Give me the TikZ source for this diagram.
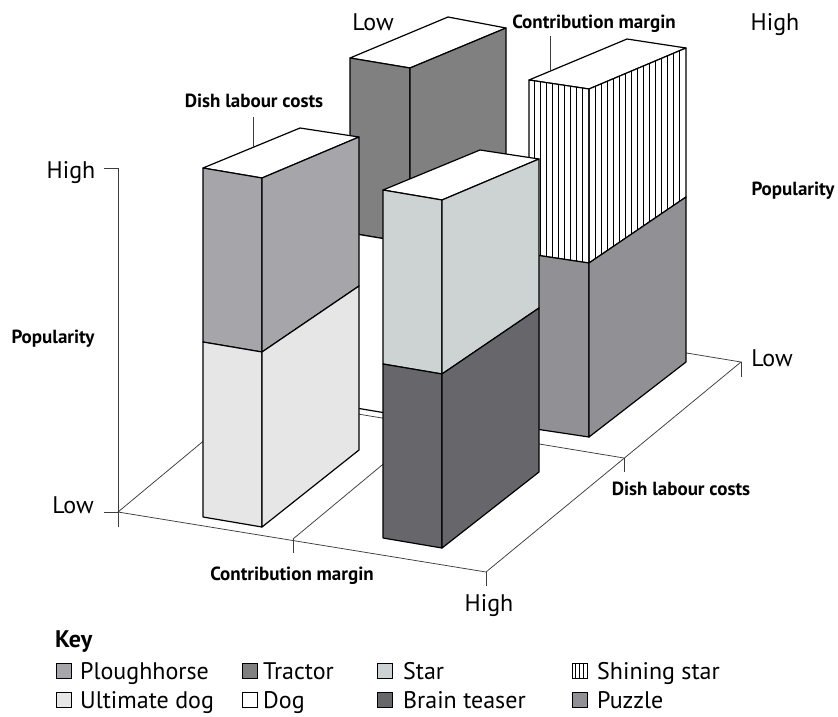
\documentclass[tikz,border=0pt]{standalone}
\usepackage{fontspec}
\setmainfont{PT Sans}
\definecolor{cPlough}{RGB}{166,165,170}
\definecolor{cTractor}{RGB}{128,128,128}
\definecolor{cStar}{RGB}{205,211,211}
\definecolor{cUltimate}{RGB}{230,230,230}
\definecolor{cBrain}{RGB}{103,102,107}
\definecolor{cPuzzle}{RGB}{145,144,149}
\definecolor{cFloor}{RGB}{60,60,60}
\begin{document}
\begin{tikzpicture}[x=1pt,y=-1pt,
  face/.style={draw=black,line width=1.2pt,line join=round},
  floorline/.style={draw=cFloor,line width=0.75pt},
  hatchline/.style={draw=black,line width=0.6pt},
  leader/.style={draw=cFloor,line width=0.75pt},
  lohi/.style={font=\fontsize{24}{26}\selectfont,inner sep=0pt,text height=16.8pt,text depth=0pt},
  boldlabel/.style={font=\fontsize{19}{21}\selectfont\bfseries,inner sep=0pt,text height=13.3pt,text depth=0pt},
  keytext/.style={font=\fontsize{24}{26}\selectfont,inner sep=0pt,text height=16.8pt,text depth=0pt,anchor=west},
  keyhead/.style={font=\fontsize{24}{26}\selectfont\bfseries,inner sep=0pt,text height=16.8pt,text depth=0pt,anchor=west},
  swatch/.style={draw=black,line width=0.9pt,minimum size=15pt,inner sep=0pt}]
\useasboundingbox (0,0) rectangle (838,716);

% ---------- floor ----------
\coordinate (O) at (118,512);
\coordinate (A) at (486,572);
\coordinate (B) at (372,301);
\coordinate (C) at (741,362);
\coordinate (T1) at (293,539);
\coordinate (T1b) at (547,328);
\coordinate (T2) at (624,458);
\coordinate (T2b) at (255,397);
\coordinate (Vtop) at (118,168);
\coordinate (Vbot) at (118,527);
\draw[floorline] (O) -- (A) -- (C) -- (B) -- cycle;
\draw[floorline] (T1) -- (T1b);
\draw[floorline] (T2) -- (T2b);
\draw[floorline] (Vtop) -- (Vbot);
\draw[floorline] (Vtop) -- ++(-14,0);
\draw[floorline] (O) -- ++(-14,0);
\draw[floorline] (T1) -- ++(0,14);
\draw[floorline] (A) -- ++(0,14);
\draw[floorline] (T2) -- ++(0,14);
\draw[floorline] (C) -- ++(0,15);

% ---------- back-left column: Tractor over Dog ----------
\draw[face,fill=white] (350,58) -- (410,68) -- (506,28) -- (448,17) -- cycle;
\draw[face,fill=cTractor] (350,58) -- (410,68) -- (410,243) -- (350,233) -- cycle;
\draw[face,fill=cTractor] (410,68) -- (506,28) -- (506,177) -- (410,243) -- cycle;
\draw[face,fill=white] (350,233) -- (410,243) -- (410,417) -- (350,407) -- cycle;
\draw[face,fill=white] (410,243) -- (506,177) -- (506,341) -- (410,417) -- cycle;

% ---------- back-right column: Shining star over Puzzle ----------
\draw[face,fill=white] (529,80) -- (589,89) -- (686,48) -- (627,39) -- cycle;
\fill[white] (529,80) -- (589,89) -- (686,48) -- (686,197) -- (589,263) -- (529,254) -- cycle;
\begin{scope}
  \clip (529,80) -- (589,89) -- (589,263) -- (529,254) -- cycle;
  \foreach \x in {534,540,...,586} \draw[hatchline] (\x,30) -- (\x,300);
\end{scope}
\begin{scope}
  \clip (589,89) -- (686,48) -- (686,197) -- (589,263) -- cycle;
  \foreach \x in {595,601,...,684} \draw[hatchline] (\x,30) -- (\x,300);
\end{scope}
\draw[face] (529,80) -- (589,89) -- (589,263) -- (529,254) -- cycle;
\draw[face] (589,89) -- (686,48) -- (686,197) -- (589,263) -- cycle;
\draw[face,fill=cPuzzle] (529,254) -- (589,263) -- (589,437) -- (529,428) -- cycle;
\draw[face,fill=cPuzzle] (589,263) -- (686,197) -- (686,362) -- (589,437) -- cycle;

% ---------- front-left column: Ploughhorse over Ultimate dog ----------
\draw[face,fill=white] (203,168) -- (262,178) -- (359,137) -- (300,128) -- cycle;
\draw[face,fill=cPlough] (203,168) -- (262,178) -- (262,352) -- (203,342) -- cycle;
\draw[face,fill=cPlough] (262,178) -- (359,137) -- (359,286) -- (262,352) -- cycle;
\draw[face,fill=cUltimate] (203,342) -- (262,352) -- (262,527) -- (203,517) -- cycle;
\draw[face,fill=cUltimate] (262,352) -- (359,286) -- (359,450) -- (262,527) -- cycle;

% ---------- front-right column: Star over Brain teaser ----------
\draw[face,fill=white] (383,190) -- (442,200) -- (539,159) -- (480,150) -- cycle;
\draw[face,fill=cStar] (383,190) -- (442,200) -- (442,374) -- (383,364) -- cycle;
\draw[face,fill=cStar] (442,200) -- (539,159) -- (539,308) -- (442,374) -- cycle;
\draw[face,fill=cBrain] (383,364) -- (442,374) -- (442,548) -- (383,538) -- cycle;
\draw[face,fill=cBrain] (442,374) -- (539,308) -- (539,472) -- (442,548) -- cycle;

% ---------- labels ----------
\node[lohi] (lowtop) at (373,22) {Low};
\node[lohi] (hightop) at (775,22) {High};
\node[boldlabel] (cmtop) at (594,22) {Contribution margin};
\node[boldlabel] (dlctop) at (254,101) {Dish labour costs};
\node[boldlabel] (popright) at (793,189) {Popularity};
\node[boldlabel] (popleft) at (53,337) {Popularity};
\node[lohi] (highleft) at (71,170) {High};
\node[lohi] (lowleft) at (73,505) {Low};
\node[lohi] (lowright) at (772,358) {Low};
\node[lohi] (highbottom) at (489,603) {High};
\node[boldlabel] (cmbottom) at (292,574) {Contribution margin};
\node[boldlabel] (dlcright) at (681,489) {Dish labour costs};

\coordinate (dlcpt) at (253,147);
\coordinate (cmpt) at (550,71);
\draw[leader] ([yshift=-9pt]dlctop.south -| dlcpt) -- (dlcpt);
\draw[leader] ([yshift=-7pt]cmtop.south -| cmpt) -- (cmpt);

% ---------- key ----------
\node[keyhead] (key) at (55,639) {Key};

\node[swatch,fill=cPlough] (swPl) at (64,671) {};
\node[keytext] (txPl) at (80,671) {Ploughhorse};
\node[swatch,fill=cTractor] (swTr) at (249.5,671) {};
\node[keytext] (txTr) at (263,671) {Tractor};
\node[swatch,fill=cStar] (swSt) at (384.5,671) {};
\node[keytext] (txSt) at (403,671) {Star};
\node[swatch,fill=white] (swSh) at (579.5,671) {};
\draw[hatchline] ([xshift=-3.75pt]swSh.north) -- ([xshift=-3.75pt]swSh.south);
\draw[hatchline] (swSh.north) -- (swSh.south);
\draw[hatchline] ([xshift=3.75pt]swSh.north) -- ([xshift=3.75pt]swSh.south);
\node[keytext] (txSh) at (597,671) {Shining star};

\node[swatch,fill=cUltimate] (swUd) at (64,700) {};
\node[keytext] (txUd) at (80,700) {Ultimate dog};
\node[swatch,fill=white] (swDo) at (249.5,700) {};
\node[keytext] (txDo) at (263,700) {Dog};
\node[swatch,fill=cBrain] (swBt) at (384.5,700) {};
\node[keytext] (txBt) at (403,700) {Brain teaser};
\node[swatch,fill=cPuzzle] (swPu) at (579.5,700) {};
\node[keytext] (txPu) at (597,700) {Puzzle};
\end{tikzpicture}
\end{document}
